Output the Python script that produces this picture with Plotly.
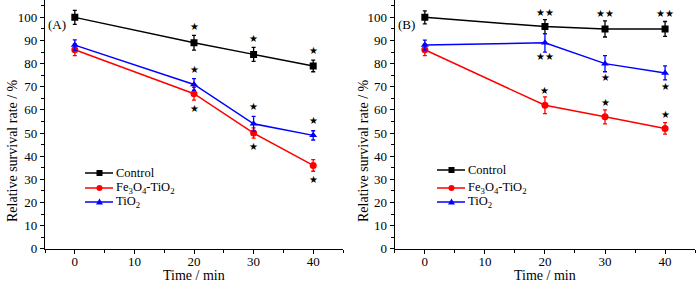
import plotly.graph_objects as go

time = [0, 20, 30, 40]

# Panel A
a_control = [100, 89, 84, 79]
a_control_err = [3, 3.2, 3, 2.5]
a_fe = [86, 67, 50, 36]
a_fe_err = [2.5, 2.8, 2.2, 2.5]
a_tio2 = [88, 71, 54, 49]
a_tio2_err = [2.3, 2.5, 3.2, 2.0]

# Panel B
b_control = [100, 96, 95, 95]
b_control_err = [2.8, 3.0, 3.5, 3.2]
b_fe = [86, 62, 57, 52]
b_fe_err = [2.5, 3.6, 3.0, 2.5]
b_tio2 = [88, 89, 80, 76]
b_tio2_err = [2.2, 4.0, 3.5, 3.0]

# Significance marks
a_star_x = [20, 30, 40, 20, 30, 40, 20, 30, 40]
a_star_y = [96, 91, 85.5, 77.5, 61.5, 55.5, 60.5, 44, 30]
a_star_t = ["★", "★", "★", "★", "★", "★", "★", "★", "★"]
b_star_x = [20, 30, 40, 20, 30, 40, 20, 30, 40]
b_star_y = [102, 101.5, 101.5, 83, 74, 70, 68.5, 63, 58]
b_star_t = ["★★", "★★", "★★", "★★", "★", "★", "★", "★", "★"]

names = ["Control", "Fe<sub>3</sub>O<sub>4</sub>-TiO<sub>2</sub>", "TiO<sub>2</sub>"]
colors = ["#000000", "#ff0000", "#0000ff"]
symbols = ["square", "circle", "triangle-up"]

x_title = "Time / min"
y_title = "Relative survival rate / %"

FONT = "Liberation Serif"
W, H = 700, 283

fig = go.Figure()

def add_panel(vals, errs, xa, ya):
    for v, e, n, c, s in zip(vals, errs, names, colors, symbols):
        fig.add_trace(go.Scatter(
            x=time, y=v, mode="lines+markers", name=n, showlegend=False,
            line=dict(color=c, width=1.5),
            marker=dict(symbol=s, size=7, color=c),
            error_y=dict(type="data", array=e, color=c, thickness=1.3, width=2),
            xaxis=xa, yaxis=ya,
        ))

add_panel([a_control, a_fe, a_tio2], [a_control_err, a_fe_err, a_tio2_err], "x", "y")
add_panel([b_control, b_fe, b_tio2], [b_control_err, b_fe_err, b_tio2_err], "x2", "y2")

annotations = []
for xs, ys, ts, xr, yr in [(a_star_x, a_star_y, a_star_t, "x", "y"), (b_star_x, b_star_y, b_star_t, "x2", "y2")]:
    for xv, yv, t in zip(xs, ys, ts):
        annotations.append(dict(x=xv, y=yv, xref=xr, yref=yr, text=t, showarrow=False,
                                font=dict(family="DejaVu Sans", size=10, color="black")))
annotations.append(dict(x=-3.0, y=97, xref="x", yref="y", text="(A)", showarrow=False,
                        font=dict(family=FONT, size=13, color="black")))
annotations.append(dict(x=-3.0, y=97, xref="x2", yref="y2", text="(B)", showarrow=False,
                        font=dict(family=FONT, size=13, color="black")))

shapes = []
def px(x):
    return x / W
def py(y):
    return 1 - y / H

# Axis titles placed as annotations
for xc, yc in [(194, 275), (545, 275)]:
    annotations.append(dict(x=px(xc), y=py(yc), xref="paper", yref="paper", text=x_title,
                            showarrow=False, xanchor="center", yanchor="middle",
                            font=dict(family=FONT, size=14, color="black")))
for xc, yc in [(12, 151), (363, 151)]:
    annotations.append(dict(x=px(xc), y=py(yc), xref="paper", yref="paper", text=y_title,
                            showarrow=False, xanchor="center", yanchor="middle", textangle=-90,
                            font=dict(family=FONT, size=14, color="black")))

# Hand-drawn legends (positions in pixels of the 700x283 canvas)
legend_boxes = [(85, 114, [173, 188, 202]), (437, 466, [170, 188, 202])]
for x0, x1, rows in legend_boxes:
    for yrow, n, c, s in zip(rows, names, colors, symbols):
        shapes.append(dict(type="line", xref="paper", yref="paper", x0=px(x0), x1=px(x1 - 1),
                           y0=py(yrow), y1=py(yrow), line=dict(color=c, width=1.5)))
        xm, ym = px((x0 + x1) / 2), py(yrow)
        if s == "square":
            shapes.append(dict(type="rect", xref="paper", yref="paper", xsizemode="pixel", ysizemode="pixel",
                               xanchor=xm, yanchor=ym, x0=-3, x1=3, y0=-3, y1=3,
                               fillcolor=c, line=dict(width=0)))
        elif s == "circle":
            shapes.append(dict(type="circle", xref="paper", yref="paper", xsizemode="pixel", ysizemode="pixel",
                               xanchor=xm, yanchor=ym, x0=-3, x1=3, y0=-3, y1=3,
                               fillcolor=c, line=dict(width=0)))
        else:
            shapes.append(dict(type="path", xref="paper", yref="paper", xsizemode="pixel", ysizemode="pixel",
                               xanchor=xm, yanchor=ym, path="M -3.5 -2.5 L 3.5 -2.5 L 0 3.5 Z",
                               fillcolor=c, line=dict(width=0)))
        annotations.append(dict(x=px(x1), y=py(yrow), xref="paper", yref="paper", text=n,
                                xanchor="left", yanchor="middle", showarrow=False,
                                font=dict(family=FONT, size=12.5, color="black")))

axis_common = dict(
    showline=True, linecolor="black", linewidth=1.2, mirror=False,
    ticks="outside", ticklen=4, tickwidth=1.2, tickcolor="black",
    showgrid=False, zeroline=False, automargin=False,
    tickfont=dict(family=FONT, size=13, color="black"),
)

xcommon = dict(axis_common, range=[-5, 45], tickvals=[0, 10, 20, 30, 40], ticklabelstandoff=-3,
               minor=dict(ticks="outside", ticklen=3, tickwidth=1, tickcolor="black", dtick=5, tick0=0))
ycommon = dict(axis_common, range=[0, 107.5], tickvals=list(range(0, 101, 10)),
               minor=dict(ticks="outside", ticklen=3, tickwidth=1, tickcolor="black", dtick=5, tick0=0))

fig.update_layout(
    width=W, height=H,
    margin=dict(l=0, r=0, t=0, b=0),
    paper_bgcolor="white", plot_bgcolor="white",
    font=dict(family=FONT, color="black"),
    xaxis=dict(xcommon, domain=[0.0643, 0.49], anchor="y"),
    yaxis=dict(ycommon, domain=[0.121, 1.0], anchor="x"),
    xaxis2=dict(xcommon, domain=[0.564, 0.993], anchor="y2"),
    yaxis2=dict(ycommon, domain=[0.121, 1.0], anchor="x2"),
    annotations=annotations,
    shapes=shapes,
    showlegend=False,
)

fig.write_html("out.html", config={"displayModeBar": False},
               post_script="document.body.style.margin='0px';")
